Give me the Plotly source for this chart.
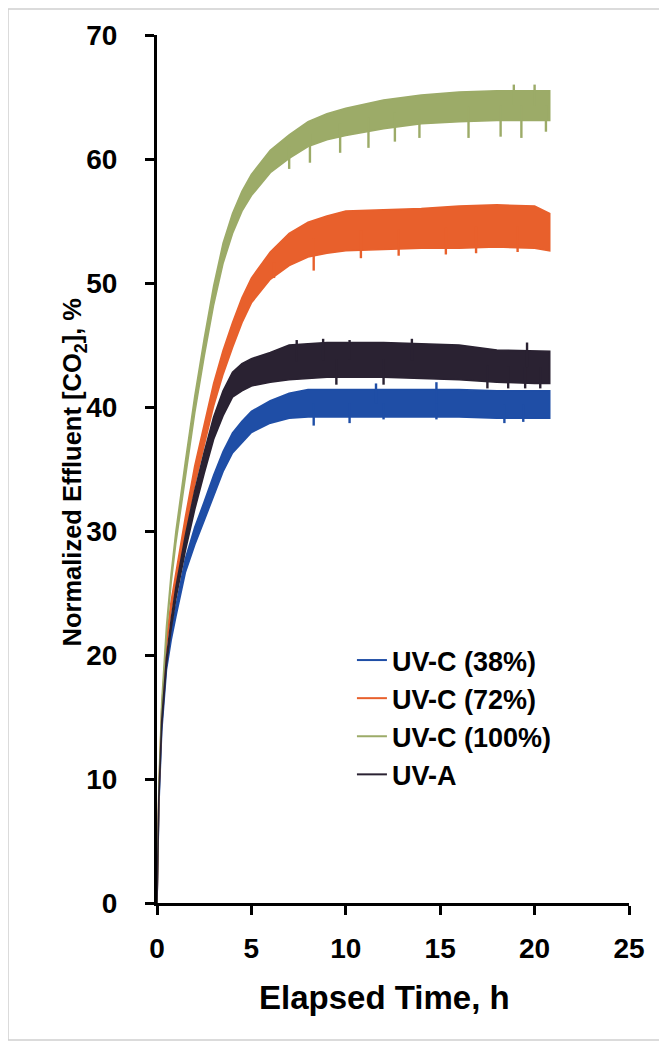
import numpy as np
import plotly.graph_objects as go

# ---- data (time in h, normalized effluent CO2 in %) ----
time_h = [0, 0.1, 0.25, 0.5, 0.75, 1.0, 1.5, 2.0, 2.5, 3.0, 3.5, 4.0, 4.5, 5.0,
          6.0, 7.0, 8.0, 9.0, 10, 12, 14, 16, 18, 20, 20.8]

# centre of each noisy trace and half-thickness of its noise band
uvc38 = [0, 8, 14, 19, 21.5, 23.5, 27.2, 29.6, 31.6, 33.7, 35.6, 37.1, 38.0, 38.8,
         39.6, 40.1, 40.3, 40.3, 40.3, 40.3, 40.3, 40.3, 40.2, 40.2, 40.2]
uvc38_band = [0, 0.1, 0.15, 0.2, 0.3, 0.4, 0.55, 0.7, 0.75, 0.8, 0.8, 0.8, 0.85, 0.85,
              0.9, 1.0, 1.1, 1.1, 1.1, 1.1, 1.1, 1.1, 1.1, 1.1, 1.1]

uvc72 = [0, 9, 15.5, 21, 24, 26.2, 30.5, 34.5, 37.8, 41, 43.6, 45.8, 47.8, 49.4,
         51.4, 52.7, 53.5, 53.9, 54.2, 54.3, 54.4, 54.5, 54.6, 54.5, 54.1]
uvc72_band = [0, 0.1, 0.15, 0.25, 0.35, 0.45, 0.6, 0.75, 0.85, 0.9, 0.95, 1.0, 1.0, 1.0,
              1.1, 1.3, 1.4, 1.5, 1.6, 1.6, 1.6, 1.7, 1.7, 1.7, 1.5]

uvc100 = [0, 9.5, 16, 22, 26.2, 29.5, 35, 40.2, 44.8, 49.0, 52.4, 54.8, 56.6, 57.9,
          59.8, 61, 62, 62.6, 63, 63.6, 64, 64.2, 64.3, 64.3, 64.3]
uvc100_band = [0, 0.1, 0.15, 0.25, 0.35, 0.45, 0.55, 0.65, 0.7, 0.75, 0.8, 0.8, 0.8, 0.85,
               0.9, 0.95, 1.0, 1.05, 1.1, 1.15, 1.15, 1.2, 1.2, 1.2, 1.2]

uva = [0, 8.5, 14.5, 19.5, 22.5, 25, 29, 32.5, 35.5, 38.3, 40.3, 41.8, 42.4, 42.8,
       43.2, 43.6, 43.7, 43.8, 43.8, 43.8, 43.7, 43.6, 43.3, 43.2, 43.2]
uva_band = [0, 0.1, 0.15, 0.25, 0.35, 0.45, 0.6, 0.75, 0.85, 0.9, 1.0, 1.0, 1.1, 1.1,
            1.2, 1.4, 1.4, 1.4, 1.4, 1.4, 1.4, 1.4, 1.3, 1.3, 1.3]

# isolated noise spikes visible beyond the bands (time h, tip value %)
uvc38_spike_t = [8.3, 10.2, 11.6, 12.0, 14.8, 14.8, 18.4, 19.4]
uvc38_spike_y = [38.5, 38.7, 41.9, 39.0, 42.0, 39.0, 38.7, 38.8]
uvc72_spike_t = [6.2, 8.3, 10.8, 12.8, 15.3, 16.9, 19.1]
uvc72_spike_y = [50.4, 51.0, 52.0, 52.2, 52.3, 52.4, 52.5]
uvc100_spike_t = [7.0, 8.1, 9.7, 11.2, 12.6, 13.9, 16.5, 18.2, 19.3, 20.6, 18.9, 20.0]
uvc100_spike_y = [59.2, 59.7, 60.5, 60.9, 61.4, 61.7, 61.7, 61.8, 61.7, 62.2, 66.0, 66.0]
uva_spike_t = [7.4, 8.8, 10.2, 13.5, 19.6, 9.5, 12.0, 17.5, 18.6, 19.5, 20.3]
uva_spike_y = [45.4, 45.5, 45.4, 45.5, 45.2, 41.8, 41.8, 41.5, 41.5, 41.5, 41.5]

series_names = ["UV-C (38%)", "UV-C (72%)", "UV-C (100%)", "UV-A"]
series_values = [uvc38, uvc72, uvc100, uva]
series_bands = [uvc38_band, uvc72_band, uvc100_band, uva_band]
series_spike_t = [uvc38_spike_t, uvc72_spike_t, uvc100_spike_t, uva_spike_t]
series_spike_y = [uvc38_spike_y, uvc72_spike_y, uvc100_spike_y, uva_spike_y]
series_colors = ["#1f4ea6", "#e8602c", "#9cab68", "#2a2232"]

x_ticks = [0, 5, 10, 15, 20, 25]
y_ticks = [0, 10, 20, 30, 40, 50, 60, 70]

FONT = "Liberation Sans, Arial, Helvetica, sans-serif"

fig = go.Figure()

for vals, band, st, sy, col in zip(series_values, series_bands, series_spike_t,
                                   series_spike_y, series_colors):
    hi = [v + b for v, b in zip(vals, band)]
    lo = [v - b for v, b in zip(vals, band)]
    fig.add_trace(go.Scatter(
        x=time_h + time_h[::-1],
        y=hi + lo[::-1],
        mode="lines",
        fill="toself",
        fillcolor=col,
        line=dict(color=col, width=1.6),
        showlegend=False,
        hoverinfo="skip",
    ))
    base = np.interp(st, time_h, vals)
    sx, syy = [], []
    for t, b, tip in zip(st, base, sy):
        sx += [t, t, None]
        syy += [float(b), tip, None]
    fig.add_trace(go.Scatter(
        x=sx, y=syy, mode="lines",
        line=dict(color=col, width=2.4),
        showlegend=False, hoverinfo="skip",
    ))

# legend entries (short line samples)
for name, col in zip(series_names, series_colors):
    fig.add_trace(go.Scatter(
        x=[None], y=[None], mode="lines", name=name,
        line=dict(color=col, width=2),
    ))

axis_common = dict(
    showline=True, linewidth=3, linecolor="black",
    ticks="outside", ticklen=9, tickwidth=3, tickcolor="black",
    showgrid=False, zeroline=False,
    tickfont=dict(family=FONT, size=28, color="black", weight="bold"),
)

fig.update_layout(
    width=659, height=1040, autosize=False,
    margin=dict(l=149, r=38, t=27, b=145),
    paper_bgcolor="white", plot_bgcolor="white",
    font=dict(family=FONT, color="black"),
    xaxis=dict(range=[0, 25], tickvals=x_ticks, ticklabelstandoff=9, **axis_common),
    yaxis=dict(range=[0, 70], tickvals=y_ticks, ticklabelstandoff=22, **axis_common),
    legend=dict(
        x=0.413, y=0.3076, xanchor="left", yanchor="top",
        bgcolor="rgba(0,0,0,0)", itemwidth=30, tracegroupgap=0,
        font=dict(family=FONT, size=27, color="black", weight="bold"),
    ),
    annotations=[
        dict(text="Elapsed Time, h", xref="paper", yref="paper",
             x=0.481, y=-0.1094, xanchor="center", yanchor="middle", showarrow=False,
             font=dict(family=FONT, size=33, color="black", weight="bold")),
        dict(text="Normalized Effluent [CO<sub>2</sub>], %", xref="paper", yref="paper",
             x=-0.176, y=0.497, xanchor="center", yanchor="middle", showarrow=False,
             textangle=-90,
             font=dict(family=FONT, size=25.5, color="black", weight="bold")),
    ],
    shapes=[dict(type="rect", xref="paper", yref="paper",
                 x0=-0.3157, x1=1.0657, y0=-0.1578, y1=1.03,
                 line=dict(color="#cfcfcf", width=1.5), layer="below")],
)

fig.write_html("out.html")
